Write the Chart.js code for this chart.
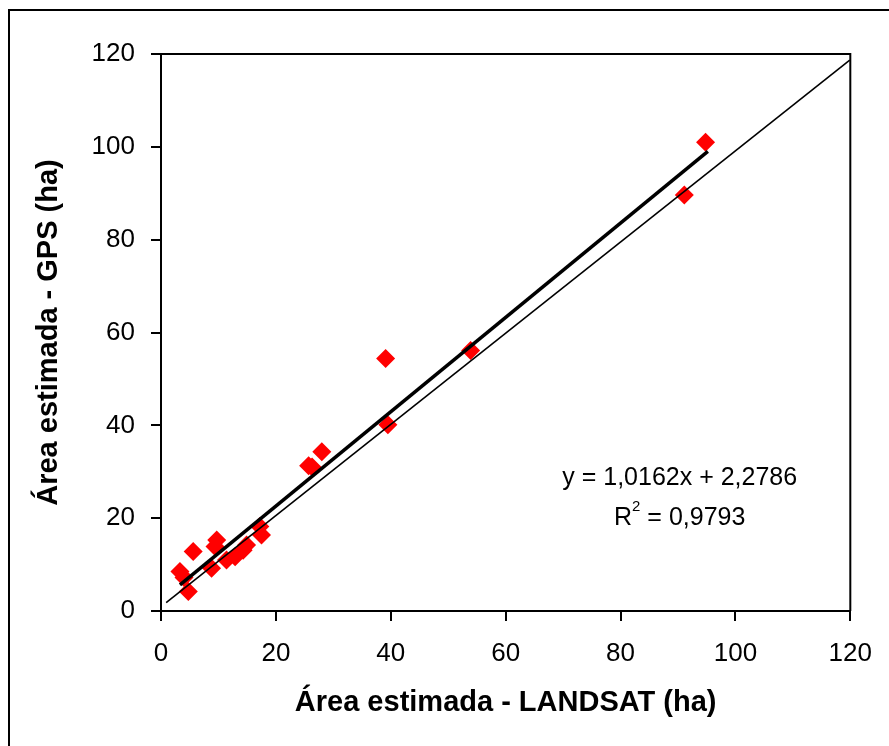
<!DOCTYPE html>
<html>
<head>
<meta charset="utf-8">
<script src="https://cdn.jsdelivr.net/npm/chart.js@4/dist/chart.umd.min.js"></script>
<style>
  html, body { margin: 0; padding: 0; background: #fff; }
  #wrap { width: 889px; height: 746px; }
</style>
</head>
<body>
<div id="wrap"><canvas id="cArea" width="889" height="746"></canvas></div>
<script>
// ── Datos ─────────────────────────────────────────────────────────
const landsatHa = [3.3, 4.0, 4.75, 5.6, 8.8, 9.4, 9.7, 11.4, 12.9, 14.3, 14.9, 17.2, 17.5, 25.7, 26.3, 28.0, 39.1, 39.5, 53.9, 91.1, 94.8];
const gpsHa     = [8.5, 7.2, 4.2, 12.8, 9.2, 13.9, 15.3, 11.0, 11.7, 13.1, 14.2, 18.2, 16.4, 31.3, 31.0, 34.3, 54.4, 40.1, 56.1, 89.6, 101.0];

// recta de tendencia (ecuacion del grafico) y su rango en x
const trendSlope = 1.0162;
const trendIntercept = 2.2786;
const trendX = [3.3, 95.2];

// recta 1:1 tal como aparece dibujada
const refX = [0.9, 119.9];
const refY = [1.8, 118.7];

const axisTicks = [0, 20, 40, 60, 80, 100, 120];
const eqLines = ['y = 1,0162x + 2,2786', '0,9793'];

const FONT = "'Liberation Sans', Arial, sans-serif";

// ── Marco exterior, caja del area y ecuacion ──────────────────────
const framePlugin = {
  id: 'frame',
  beforeDraw(chart) {
    const ctx = chart.ctx;
    ctx.save();
    ctx.fillStyle = '#fff';
    ctx.fillRect(0, 0, chart.width, chart.height);
    ctx.strokeStyle = '#000';
    ctx.lineWidth = 2;
    ctx.beginPath();
    ctx.moveTo(9, chart.height + 5);
    ctx.lineTo(9, 10);
    ctx.lineTo(chart.width + 5, 10);
    ctx.stroke();
    ctx.restore();
  },
  beforeDatasetsDraw(chart) {
    const { ctx, chartArea: a } = chart;
    ctx.save();
    ctx.strokeStyle = '#000';
    ctx.lineWidth = 2;
    ctx.beginPath();
    ctx.moveTo(a.left, a.top);
    ctx.lineTo(a.right, a.top);
    ctx.lineTo(a.right, a.bottom);
    ctx.stroke();
    ctx.restore();
  },
  afterDraw(chart) {
    const { ctx, scales: { x, y } } = chart;
    const cx = x.getPixelForValue(90.3);
    ctx.save();
    ctx.fillStyle = '#000';
    ctx.textBaseline = 'middle';
    ctx.textAlign = 'center';
    ctx.font = '25px ' + FONT;
    ctx.fillText(eqLines[0], cx, y.getPixelForValue(28.7));
    // R^2 con superindice
    const y2 = y.getPixelForValue(20.0);
    const wR = ctx.measureText('R').width;
    const wRest = ctx.measureText(' = ' + eqLines[1]).width;
    ctx.font = '15px ' + FONT;
    const wSup = ctx.measureText('2').width;
    const x0 = cx - (wR + wSup + wRest) / 2;
    ctx.textAlign = 'left';
    ctx.font = '25px ' + FONT;
    ctx.fillText('R', x0, y2);
    ctx.fillText(' = ' + eqLines[1], x0 + wR + wSup, y2);
    ctx.font = '15px ' + FONT;
    ctx.fillText('2', x0 + wR, y2 - 11);
    ctx.restore();
  }
};

const scatterPts = landsatHa.map((v, i) => ({ x: v, y: gpsHa[i] }));
const trendPts = trendX.map(v => ({ x: v, y: trendSlope * v + trendIntercept }));
const refPts = refX.map((v, i) => ({ x: v, y: refY[i] }));

const axisCommon = {
  type: 'linear',
  min: 0, max: 120,
  afterBuildTicks: s => { s.ticks = axisTicks.map(v => ({ value: v })); },
  grid: { drawOnChartArea: false, drawTicks: true, tickLength: 10, color: '#000', lineWidth: 2 },
  border: { display: true, color: '#000', width: 2 },
  ticks: { color: '#000', font: { family: FONT, size: 26 } },
};

new Chart(document.getElementById('cArea'), {
  type: 'scatter',
  data: {
    datasets: [
      { type: 'line', data: trendPts, borderColor: '#000', borderWidth: 3.5, pointRadius: 0, fill: false, order: 0 },
      { type: 'line', data: refPts, borderColor: '#000', borderWidth: 1.6, pointRadius: 0, fill: false, order: 0 },
      { data: scatterPts, pointStyle: 'rectRot', pointRadius: 9.5, backgroundColor: '#ff0000', borderColor: '#ff0000', borderWidth: 0, order: 1 },
    ],
  },
  options: {
    responsive: false, animation: false, devicePixelRatio: 1,
    layout: { padding: { left: 0, top: 54, right: 38, bottom: 0 } },
    plugins: { legend: { display: false }, tooltip: { enabled: false } },
    scales: {
      x: {
        ...axisCommon,
        position: 'bottom',
        ticks: { ...axisCommon.ticks, padding: 17, maxRotation: 0 },
        title: { display: true, text: 'Área estimada - LANDSAT (ha)', color: '#000', font: { family: FONT, size: 29, weight: 'bold' }, padding: { top: 0, bottom: 26 } },
        afterFit: s => { s.height = 135; },
      },
      y: {
        ...axisCommon,
        position: 'left',
        ticks: { ...axisCommon.ticks, padding: 16 },
        title: { display: true, text: 'Área estimada - GPS (ha)', color: '#000', font: { family: FONT, size: 29, weight: 'bold' }, padding: { top: 32, bottom: 0 } },
        afterFit: s => { s.width = 161; },
      },
    },
  },
  plugins: [framePlugin],
});
</script>
</body>
</html>
